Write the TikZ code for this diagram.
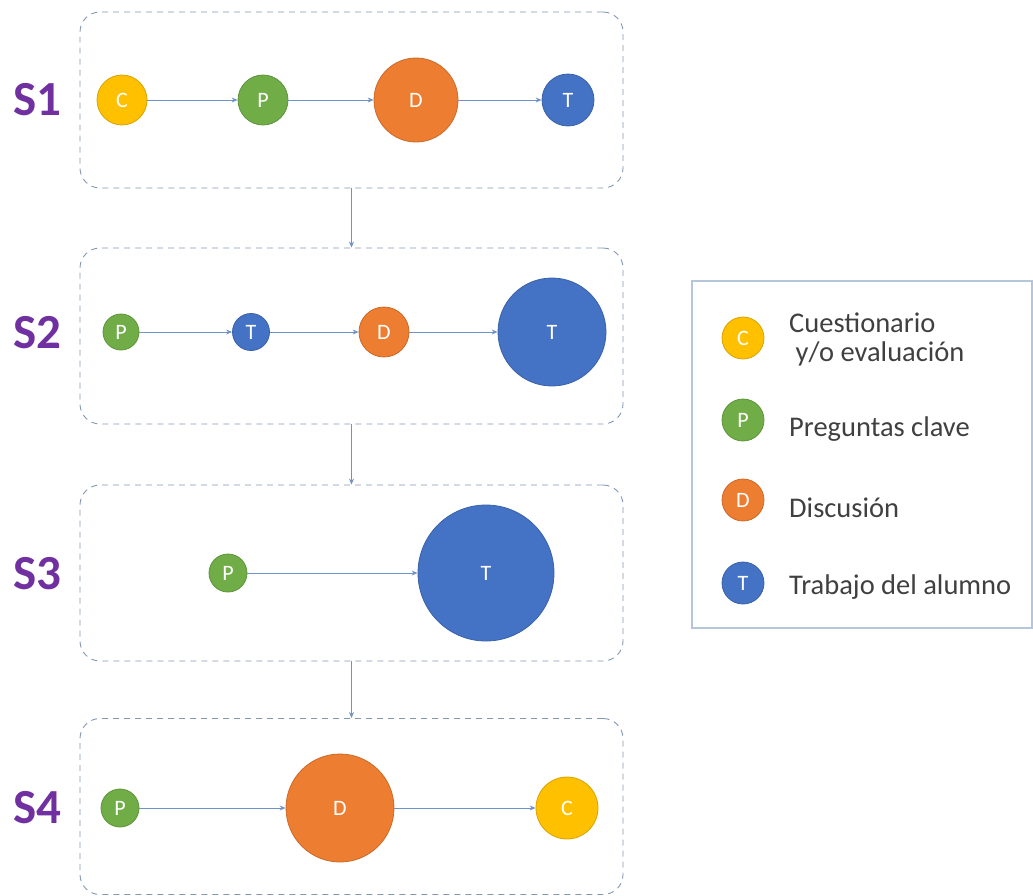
\documentclass[tikz,border=0pt]{standalone}
\usepackage{fontspec}
\setmainfont{Carlito}
\usetikzlibrary{arrows.meta}
\definecolor{cY}{HTML}{FFC000}
\definecolor{cG}{HTML}{70AD47}
\definecolor{cO}{HTML}{ED7D31}
\definecolor{cB}{HTML}{4472C4}
\definecolor{lab}{HTML}{7030A0}
\definecolor{boxc}{HTML}{8497B0}
\definecolor{arr}{HTML}{6F93C8}
\definecolor{legc}{HTML}{B4C7DA}
\definecolor{txt}{HTML}{404040}
\tikzset{
  dot/.style={circle, inner sep=0pt, text=white, font=\fontsize{22}{22}\selectfont, line width=0.8pt},
  cq/.style={dot, fill=cY, draw=cY!85!black},
  pq/.style={dot, fill=cG, draw=cG!85!black},
  dq/.style={dot, fill=cO, draw=cO!85!black},
  tq/.style={dot, fill=cB, draw=cB!85!black},
  sbox/.style={draw=boxc, dash pattern=on 6pt off 5pt, line width=0.9pt, rounded corners=20pt, minimum width=543pt, minimum height=176pt, inner sep=0pt},
  slab/.style={text=lab, font=\fontsize{49}{49}\selectfont\bfseries, inner sep=0pt},
  flow/.style={draw=arr, line width=1pt, -{Stealth[length=6pt,width=5pt]}},
  legtext/.style={text=txt, font=\fontsize{28.5}{29}\selectfont, anchor=west, inner sep=0pt, align=left}
}
\begin{document}
\begin{tikzpicture}[x=1pt,y=-1pt]
\useasboundingbox (0,0) rectangle (1033,895);
% boxes
\node[sbox] (b1) at (351.5,100) {};
\node[sbox] (b2) at (351.5,336) {};
\node[sbox] (b3) at (351.5,573) {};
\node[sbox] (b4) at (351.5,806.5) {};
% stage labels
\node[slab] (l1) at (37,100) {S1};
\node[slab] (l2) at (37,333) {S2};
\node[slab] (l3) at (37,574) {S3};
\node[slab] (l4) at (37,808) {S4};
% S1
\node[cq, minimum size=50pt] (a1) at (122,100) {C};
\node[pq, minimum size=50pt] (a2) at (263,100) {P};
\node[dq, minimum size=84pt] (a3) at (416,100) {D};
\node[tq, minimum size=52pt] (a4) at (568,100) {T};
\draw[flow] (a1) -- (a2);
\draw[flow] (a2) -- (a3);
\draw[flow] (a3) -- (a4);
% S2
\node[pq, minimum size=36pt] (b21) at (121,332) {P};
\node[tq, minimum size=37pt] (b22) at (251,332) {T};
\node[dq, minimum size=50pt] (b23) at (384,332) {D};
\node[tq, minimum size=108pt] (b24) at (552,332) {T};
\draw[flow] (b21) -- (b22);
\draw[flow] (b22) -- (b23);
\draw[flow] (b23) -- (b24);
% S3
\node[pq, minimum size=38pt] (c31) at (228,573) {P};
\node[tq, minimum size=136pt] (c32) at (486,573) {T};
\draw[flow] (c31) -- (c32);
% S4
\node[pq, minimum size=38pt] (d41) at (120,808) {P};
\node[dq, minimum size=108pt] (d42) at (340,808) {D};
\node[cq, minimum size=62pt] (d43) at (567,808) {C};
\draw[flow] (d41) -- (d42);
\draw[flow] (d42) -- (d43);
% between stages
\draw[flow] (b1.south) -- (b2.north);
\draw[flow] (b2.south) -- (b3.north);
\draw[flow] (b3.south) -- (b4.north);
% legend
\node[draw=legc, line width=1.2pt, minimum width=340pt, minimum height=347pt, inner sep=0pt] (leg) at (862,454.5) {};
\node[cq, minimum size=42pt] (kc) at (743,338) {C};
\node[pq, minimum size=42pt] (kp) at (743,420) {P};
\node[dq, minimum size=42pt] (kd) at (743,500) {D};
\node[tq, minimum size=42pt] (kt) at (743,583) {T};
\node[legtext] (tc) at (789,339) {Cuestionario\\\ y/o evaluación};
\node[legtext] (tp) at (789,429) {Preguntas clave};
\node[legtext] (td) at (789,508) {Discusión};
\node[legtext] (tt) at (789,587) {Trabajo del alumno};
\end{tikzpicture}
\end{document}
